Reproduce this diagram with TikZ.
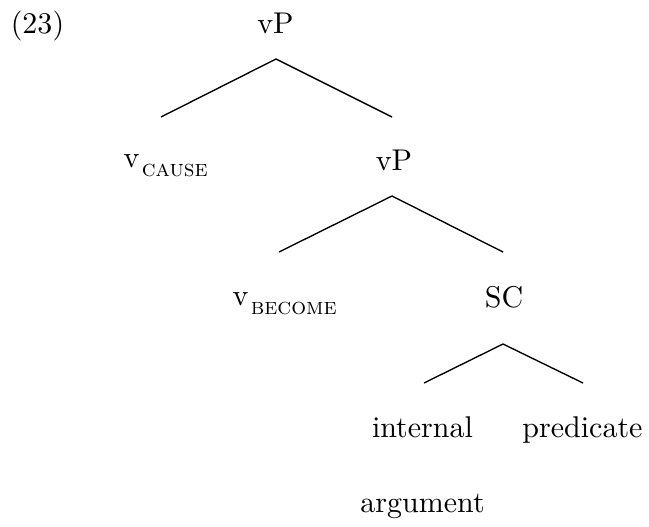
\documentclass[tikz,border=0pt]{standalone}
\newcommand\vsubsc[1]{v\kern0.8pt\raisebox{-3.3pt}{\fontsize{7.8}{8}\selectfont\textsc{#1}}}
\tikzset{
  lbl/.style={inner sep=0pt, anchor=base},
  branch/.style={line width=0.45pt},
}
\begin{document}
\begin{tikzpicture}[x=0.3333pt, y=-0.3333pt]
\useasboundingbox (0,0) rectangle (649,526);
% labels
\node[lbl] (ex) at (37.5,33) {(23)};
\node[lbl] (vP1) at (275.5,33) {vP};
\node[lbl, anchor=base west] (vcause) at (123,167) {\vsubsc{cause}};
\node[lbl] (vP2) at (394,170) {vP};
\node[lbl, anchor=base west] (vbecome) at (232,305) {\vsubsc{become}};
\node[lbl] (SC) at (504,307) {SC};
\node[lbl, align=center] (intarg) at (422.5,512) {internal\\[13pt]argument};
\node[lbl] (pred) at (582.5,437) {predicate};
% branch points
\coordinate (a1) at (276,59);
\coordinate (a1l) at (161,117);
\coordinate (a1r) at (392,117);
\coordinate (a2) at (392,196);
\coordinate (a2l) at (279,252);
\coordinate (a2r) at (503,252);
\coordinate (a3) at (503,344);
\coordinate (a3l) at (424,383);
\coordinate (a3r) at (583,383);
\draw[branch] (a1l) -- (a1) -- (a1r);
\draw[branch] (a2l) -- (a2) -- (a2r);
\draw[branch] (a3l) -- (a3) -- (a3r);
\end{tikzpicture}
\end{document}
